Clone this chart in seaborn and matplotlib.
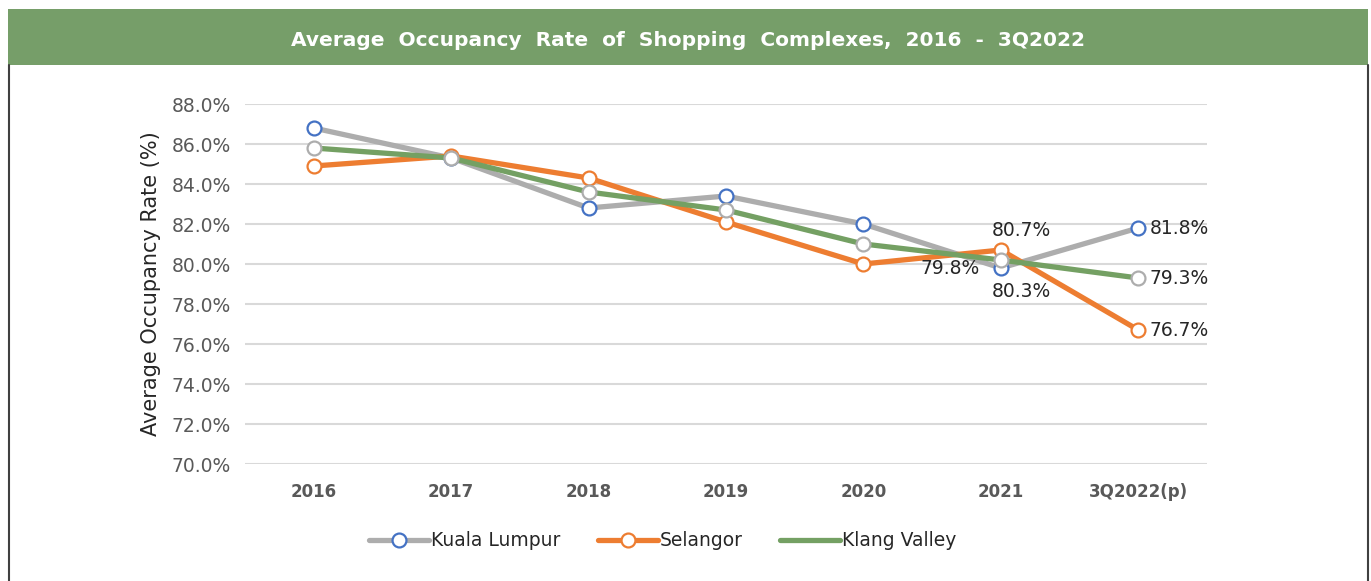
import matplotlib
matplotlib.use("Agg")
import matplotlib.pyplot as plt
from matplotlib.patches import Rectangle
from matplotlib.lines import Line2D
import seaborn as sns
import pandas as pd

categories = ["2016", "2017", "2018", "2019", "2020", "2021", "3Q2022(p)"]
kuala_lumpur = [86.8, 85.3, 82.8, 83.4, 82.0, 79.8, 81.8]
selangor = [84.9, 85.4, 84.3, 82.1, 80.0, 80.7, 76.7]
klang_valley = [85.8, 85.3, 83.6, 82.7, 81.0, 80.2, 79.3]
series_names = ["Kuala Lumpur", "Selangor", "Klang Valley"]
y_ticks = [70, 72, 74, 76, 78, 80, 82, 84, 86, 88]

sns.set_theme(style="white")
plt.rcParams["font.family"] = ["DejaVu Sans"]

df = pd.DataFrame({
    "Year": categories * 3,
    "Rate": kuala_lumpur + selangor + klang_valley,
    "Region": [n for n in series_names for _ in categories],
})

line_colors = {"Kuala Lumpur": "#ADADAD", "Selangor": "#ED7D31", "Klang Valley": "#74A063"}
edge_colors = {"Kuala Lumpur": "#4472C4", "Selangor": "#ED7D31", "Klang Valley": "#ADADAD"}

fig = plt.figure(figsize=(13.71, 5.81), dpi=100)
ax = fig.add_axes([245 / 1371, 117 / 581, (1207 - 245) / 1371, 360 / 581])

for name in series_names:
    sub = df[df["Region"] == name]
    sns.lineplot(data=sub, x="Year", y="Rate", ax=ax, color=line_colors[name],
                 linewidth=3.8, marker="o", markersize=10,
                 markerfacecolor="white", markeredgecolor=edge_colors[name],
                 markeredgewidth=1.6, sort=False, legend=False)

ax.set_xlim(-0.5, len(categories) - 0.5)
ax.set_ylim(70, 88)
ax.set_yticks(y_ticks)
ax.set_yticklabels([f"{v:.1f}%" for v in y_ticks], color="#595959", fontsize=13.5)
ax.set_xticks(range(len(categories)))
ax.set_xticklabels(categories, color="#595959", fontsize=12, fontweight="bold")
ax.tick_params(axis="x", pad=14, length=0)
ax.tick_params(axis="y", pad=10, length=0)
ax.yaxis.grid(True, color="#D9D9D9", linewidth=1.5)
ax.set_axisbelow(True)
for s in ax.spines.values():
    s.set_visible(False)
ax.set_xlabel("")
ax.set_ylabel("Average Occupancy Rate (%)", fontsize=15, color="#262626", labelpad=8)

lab_kw = dict(textcoords="offset points", fontsize=13.5, color="#262626", va="center")
i21 = 5
i22 = 6
ax.annotate(f"{selangor[i21]:.1f}%", (i21, selangor[i21]), xytext=(15, 14), ha="center", **lab_kw)
ax.annotate(f"{kuala_lumpur[i21]:.1f}%", (i21, kuala_lumpur[i21]), xytext=(-15, 0), ha="right", **lab_kw)
ax.annotate("80.3%", (i21, klang_valley[i21]), xytext=(15, -23), ha="center", **lab_kw)
ax.annotate(f"{kuala_lumpur[i22]:.1f}%", (i22, kuala_lumpur[i22]), xytext=(8, 0), ha="left", **lab_kw)
ax.annotate(f"{klang_valley[i22]:.1f}%", (i22, klang_valley[i22]), xytext=(8, 0), ha="left", **lab_kw)
ax.annotate(f"{selangor[i22]:.1f}%", (i22, selangor[i22]), xytext=(8, 0), ha="left", **lab_kw)

handles = [
    Line2D([], [], color=line_colors["Kuala Lumpur"], linewidth=3.8, marker="o", markersize=10,
           markerfacecolor="white", markeredgecolor=edge_colors["Kuala Lumpur"], markeredgewidth=1.6),
    Line2D([], [], color=line_colors["Selangor"], linewidth=3.8, marker="o", markersize=10,
           markerfacecolor="white", markeredgecolor=edge_colors["Selangor"], markeredgewidth=1.6),
    Line2D([], [], color=line_colors["Klang Valley"], linewidth=3.8),
]
fig.legend(handles, series_names, loc="center", bbox_to_anchor=(663 / 1371, 1 - 541 / 581),
           ncol=3, frameon=False, fontsize=13.5, handlelength=3.2, handletextpad=0.1,
           columnspacing=2.0, labelcolor="#262626")

# title banner
fig.patches.append(Rectangle((8 / 1371, 1 - 65 / 581), (1368 - 8) / 1371, 56 / 581,
                             transform=fig.transFigure, facecolor="#769E69", edgecolor="none", zorder=0))
fig.text(688 / 1371, 1 - 40 / 581, "Average  Occupancy  Rate  of  Shopping  Complexes,  2016  -  3Q2022",
         ha="center", va="center", color="white", fontsize=14.5, fontweight="bold")
for xp in (8.5, 1367.5):
    fig.add_artist(Line2D([xp / 1371, xp / 1371], [0, 1 - 65 / 581], transform=fig.transFigure,
                          color="#404040", linewidth=1.5))

fig.savefig("out.png", dpi=100)
